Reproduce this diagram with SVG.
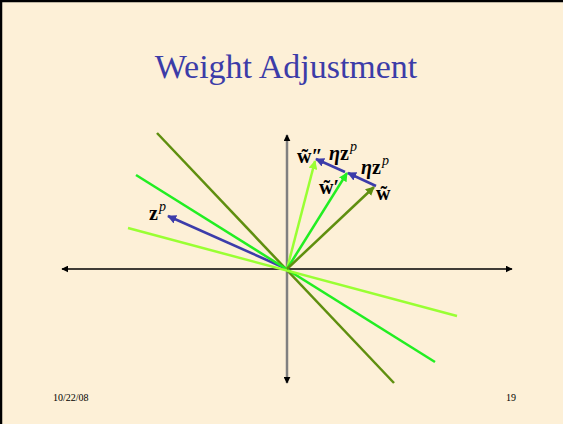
<svg xmlns="http://www.w3.org/2000/svg" width="563" height="424" viewBox="0 0 563 424">
<defs>
<style>
.t{font-family:"Liberation Serif","Times New Roman",serif}
.lbl{font-family:"Liberation Serif","Times New Roman",serif;font-size:20px;font-weight:bold;fill:#000}
.sup{font-style:italic;font-weight:normal;font-size:14px}
.ax{stroke:#000;stroke-width:1.5;fill:none}
.ln{stroke-width:2.5;fill:none}
</style>
<marker id="ak" viewBox="0 0 10 10" refX="9" refY="5" markerWidth="7" markerHeight="7" markerUnits="userSpaceOnUse" orient="auto"><path d="M0,0L10,5L0,10z" fill="#000"/></marker>
<marker id="ab" viewBox="0 0 10 10" refX="9" refY="5" markerWidth="9" markerHeight="9" markerUnits="userSpaceOnUse" orient="auto"><path d="M0,0L10,5L0,10z" fill="#3c3caa"/></marker>
<marker id="ay" viewBox="0 0 10 10" refX="9" refY="5" markerWidth="9" markerHeight="9" markerUnits="userSpaceOnUse" orient="auto"><path d="M0,0L10,5L0,10z" fill="#99ff33"/></marker>
<marker id="ag" viewBox="0 0 10 10" refX="9" refY="5" markerWidth="9" markerHeight="9" markerUnits="userSpaceOnUse" orient="auto"><path d="M0,0L10,5L0,10z" fill="#22ee22"/></marker>
<marker id="ad" viewBox="0 0 10 10" refX="9" refY="5" markerWidth="9" markerHeight="9" markerUnits="userSpaceOnUse" orient="auto"><path d="M0,0L10,5L0,10z" fill="#5f8f0f"/></marker>
</defs>
<rect x="0" y="0" width="563" height="424" fill="#fdf0d7"/>
<path d="M1,424V1H563" stroke="#000" stroke-width="2.5" fill="none"/>
<text class="t" x="286" y="78" text-anchor="middle" font-size="34" fill="#3c3ca8">Weight Adjustment</text>
<g id="connectors">
<line class="ax" x1="287" y1="269" x2="62" y2="269" marker-end="url(#ak)"/>
<line class="ax" x1="287" y1="269" x2="512" y2="269" marker-end="url(#ak)"/>
<line x1="287" y1="269" x2="287" y2="135" stroke="#808080" stroke-width="2.5" marker-end="url(#ak)"/>
<line x1="287" y1="269" x2="287" y2="383" stroke="#808080" stroke-width="2.5" marker-end="url(#ak)"/>
<line class="ln" x1="287" y1="269" x2="168" y2="216" stroke="#3c3caa" marker-end="url(#ab)"/>
<line class="ln" x1="157" y1="133" x2="394" y2="383" stroke="#5f8f0f"/>
<line class="ln" x1="136" y1="175" x2="435" y2="362" stroke="#22ee22"/>
<line class="ln" x1="128" y1="228" x2="457" y2="316" stroke="#99ff33"/>
<line class="ln" x1="287" y1="269" x2="315" y2="161" stroke="#99ff33" marker-end="url(#ay)"/>
<line class="ln" x1="287" y1="269" x2="347" y2="173" stroke="#22ee22" marker-end="url(#ag)"/>
<line class="ln" x1="287" y1="269" x2="374" y2="187" stroke="#5f8f0f" marker-end="url(#ad)"/>
<line class="ln" x1="376" y1="186" x2="348" y2="173" stroke="#3c3caa" marker-end="url(#ab)"/>
<line class="ln" x1="345" y1="172" x2="316" y2="159" stroke="#3c3caa" marker-end="url(#ab)"/>
</g>
<g id="label-zp"><text class="lbl" x="149" y="220">z<tspan class="sup" dx="1" dy="-9">p</tspan></text></g>
<g id="label-w2"><text class="lbl" x="297" y="163">w̃″</text></g>
<g id="label-ez1"><text class="lbl" x="329" y="160"><tspan font-style="italic">η</tspan>z<tspan class="sup" dx="1" dy="-9">p</tspan></text></g>
<g id="label-ez2"><text class="lbl" x="361" y="174"><tspan font-style="italic">η</tspan>z<tspan class="sup" dx="1" dy="-9">p</tspan></text></g>
<g id="label-w1"><text class="lbl" x="319" y="194">w̃′</text></g>
<g id="label-w0"><text class="lbl" x="376" y="200">w̃</text></g>
<text class="t" x="53" y="401" font-size="10" fill="#000">10/22/08</text>
<text class="t" x="506" y="401" font-size="10" fill="#000">19</text>
</svg>
